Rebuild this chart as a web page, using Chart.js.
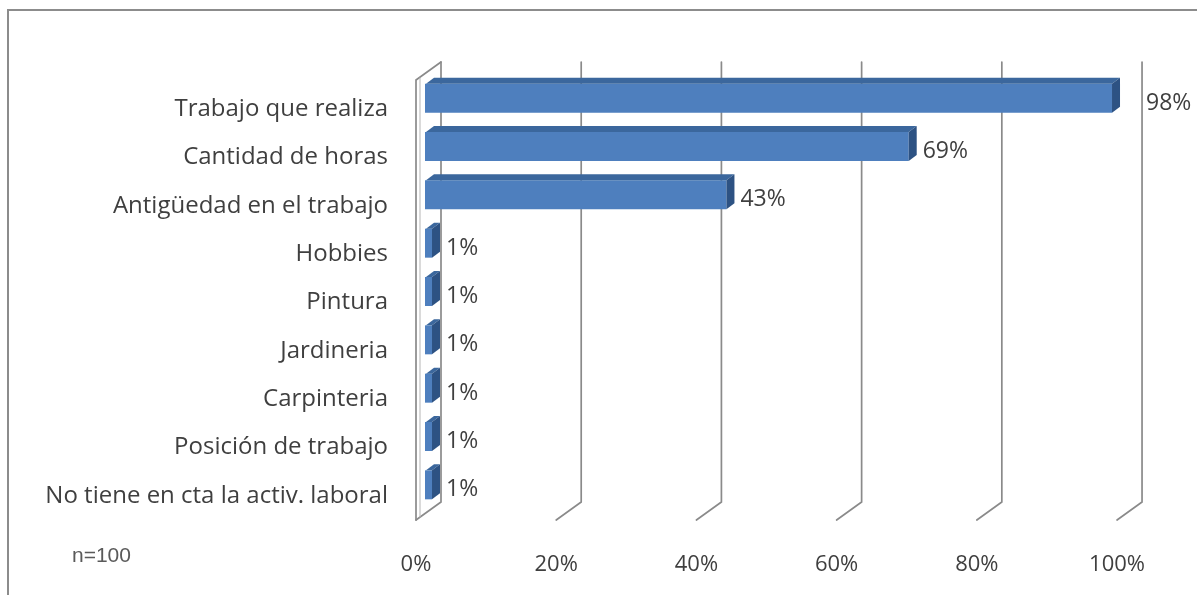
<!DOCTYPE html>
<html>
<head>
<meta charset="utf-8">
<script src="https://cdn.jsdelivr.net/npm/chart.js@4/dist/chart.umd.min.js"></script>
<style>
  html, body { margin: 0; padding: 0; background: #fff; }
  #wrap { position: relative; width: 1197px; height: 595px; overflow: hidden; }
  #frame { position: absolute; left: 7px; top: 9px; width: 1200px; height: 600px;
           border-left: 2px solid #8c8c8c; border-top: 2px solid #8c8c8c; box-sizing: border-box; }
  #note { position: absolute; left: 72px; top: 543px; font: 21px "Liberation Sans", Arial, sans-serif; color: #5a5a5a; }
  canvas { position: absolute; left: 0; top: 0; }
</style>
</head>
<body>
<div id="wrap">
  <div id="frame"></div>
  <canvas id="c" width="1197" height="595"></canvas>
  <div id="note">n=100</div>
</div>
<script>
// Categories and share of responses (%)
const categories = [
  'Trabajo que realiza',
  'Cantidad de horas',
  'Antigüedad en el trabajo',
  'Hobbies',
  'Pintura',
  'Jardineria',
  'Carpinteria',
  'Posición de trabajo',
  'No tiene en cta la activ. laboral'
];
const values = [98, 69, 43, 1, 1, 1, 1, 1, 1];
const xTicks = [0, 20, 40, 60, 80, 100];

const TEXT = '#3f3f3f';
const FONT = '"Open Sans", Lato, sans-serif';
const GRID = '#8a8a8a';

// Depth of the 3D box (front wall -> back wall) and of the bars themselves
const WALL_DX = 25, WALL_DY = -18;
const BAR_FRONT = -9;          // bars sit 9px behind the front plane
const BAR_DX = 8, BAR_DY = -6; // bar depth

const threeD = {
  id: 'threeD',
  beforeDatasetsDraw(chart) {
    const ctx = chart.ctx;
    const x = chart.scales.x;
    const frontTop = 80, frontBottom = 520;
    ctx.save();
    ctx.strokeStyle = GRID;
    ctx.lineWidth = 1.7;
    ctx.lineCap = 'round';
    // back-wall gridlines with their floor edge running to the front
    xTicks.forEach(v => {
      const fx = x.getPixelForValue(v) + BAR_FRONT;
      const bx = fx + WALL_DX;
      ctx.beginPath();
      ctx.moveTo(bx, frontTop + WALL_DY);
      ctx.lineTo(bx, frontBottom + WALL_DY);
      ctx.lineTo(fx, frontBottom);
      ctx.stroke();
    });
    // left side wall
    const lx = x.getPixelForValue(0) + BAR_FRONT;
    ctx.beginPath();
    ctx.moveTo(lx, frontBottom);
    ctx.lineTo(lx, frontTop);
    ctx.lineTo(lx + WALL_DX, frontTop + WALL_DY);
    ctx.stroke();
    ctx.lineWidth = 1;
    ctx.strokeStyle = '#b5b5b5';
    ctx.beginPath();
    ctx.moveTo(lx + 4, frontBottom - 3);
    ctx.lineTo(lx + 4, frontTop - 2);
    ctx.stroke();
    ctx.restore();
  },
  afterDatasetsDraw(chart) {
    const ctx = chart.ctx;
    const meta = chart.getDatasetMeta(0);
    const gridBack = xTicks.map(v => chart.scales.x.getPixelForValue(v) + BAR_FRONT + WALL_DX);
    ctx.save();
    meta.data.forEach((bar, i) => {
      const x0 = bar.base, x1 = bar.x;
      const top = bar.y - bar.height / 2, bottom = bar.y + bar.height / 2;
      // top face
      ctx.fillStyle = '#3b679d';
      ctx.beginPath();
      ctx.moveTo(x0 + 1, top);
      ctx.lineTo(x0 + 1 + BAR_DX, top + BAR_DY);
      ctx.lineTo(x1 + BAR_DX, top + BAR_DY);
      ctx.lineTo(x1, top);
      ctx.closePath();
      ctx.fill();
      // side face
      ctx.fillStyle = '#2d5283';
      ctx.beginPath();
      ctx.moveTo(x1, top);
      ctx.lineTo(x1 + BAR_DX, top + BAR_DY);
      ctx.lineTo(x1 + BAR_DX, bottom + BAR_DY);
      ctx.lineTo(x1, bottom);
      ctx.closePath();
      ctx.fill();
      // value label, stepped past a back gridline it would cross
      const txt = values[i] + '%';
      ctx.font = '23px ' + FONT;
      const w = ctx.measureText(txt).width;
      let lx = x1 + BAR_DX + 6;
      gridBack.forEach(g => { if (lx < g + 2 && lx + w > g - 2) lx = g + 4; });
      ctx.fillStyle = TEXT;
      ctx.textAlign = 'left';
      ctx.textBaseline = 'middle';
      ctx.fillText(txt, lx, bar.y + 5);
    });
    ctx.restore();
  }
};

new Chart(document.getElementById('c'), {
  type: 'bar',
  data: {
    labels: categories,
    datasets: [{
      data: values,
      backgroundColor: '#4e7fbe',
      borderWidth: 0,
      barPercentage: 0.6,
      categoryPercentage: 1
    }]
  },
  options: {
    indexAxis: 'y',
    responsive: false,
    animation: false,
    layout: { padding: { top: 74, right: 70, bottom: 0, left: 0 } },
    plugins: { legend: { display: false }, tooltip: { enabled: false } },
    scales: {
      x: {
        min: 0, max: 100,
        afterFit(s) { s.height = 86; },
        afterBuildTicks(s) { s.ticks = xTicks.map(v => ({ value: v })); },
        grid: { display: false, drawTicks: false },
        border: { display: false },
        ticks: {
          padding: 43,
          labelOffset: BAR_FRONT,
          color: TEXT,
          font: { family: FONT, size: 22 },
          callback: v => v + '%'
        }
      },
      y: {
        afterFit(s) { s.width = 425; },
        grid: { display: false, drawTicks: false },
        border: { display: false },
        ticks: {
          padding: 37,
          labelOffset: 11,
          color: TEXT,
          font: { family: FONT, size: 24 }
        }
      }
    }
  },
  plugins: [threeD]
});
</script>
</body>
</html>
